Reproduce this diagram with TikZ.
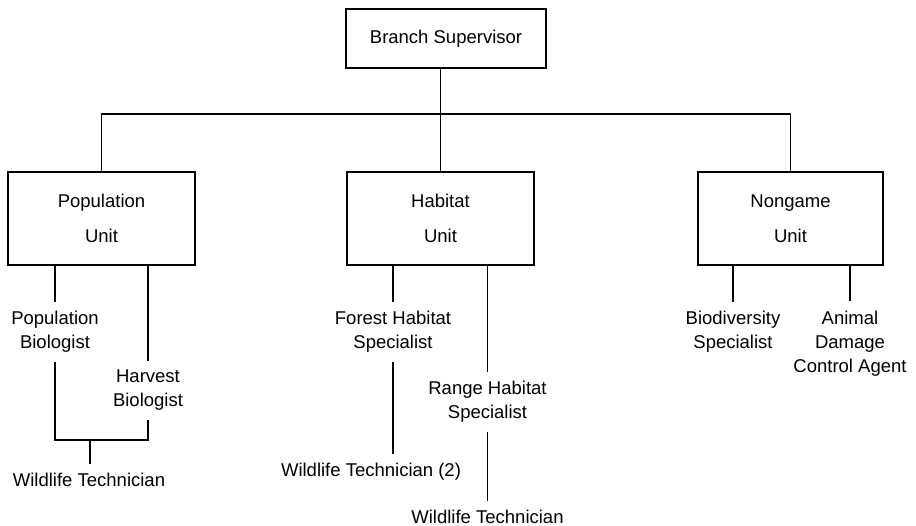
\documentclass[tikz,border=0pt]{standalone}
\usepackage{fontspec}
\setmainfont{Liberation Sans}
\begin{document}
\begin{tikzpicture}[x=1pt,y=-1pt,
  orgbox/.style={draw, line width=1.6pt, align=center, inner sep=0pt,
    font=\fontsize{18.5}{24}\selectfont},
  role/.style={align=center, inner xsep=2pt, inner ysep=9pt,
    font=\fontsize{18.5}{24}\selectfont},
  link/.style={draw, line width=1.6pt}]
\useasboundingbox (0,0) rectangle (916,526);

% Supervisor and the three units
\node[orgbox, minimum width=200pt, minimum height=59pt] (sup) at (446,38.5) {Branch Supervisor};
\node[orgbox, minimum width=187pt, minimum height=93pt] (pop) at (101.5,218.5) {Population\\[11pt]Unit};
\node[orgbox, minimum width=187pt, minimum height=93pt] (hab) at (440.5,218.5) {Habitat\\[11pt]Unit};
\node[orgbox, minimum width=185pt, minimum height=93pt] (non) at (790.5,218.5) {Nongame\\[11pt]Unit};

% Staff positions
\node[role] (pbio) at (55,331.8) {Population\\Biologist};
\node[role] (hbio) at (148,390.3) {Harvest\\Biologist};
\node[role] (wt1)  at (89,479.9) {Wildlife Technician};
\node[role] (fhs)  at (393,331.8) {Forest Habitat\\Specialist};
\node[role] (wt2)  at (371,471.8) {Wildlife Technician (2)};
\node[role] (rhs)  at (487.5,401.8) {Range Habitat\\Specialist};
\node[role] (wt3)  at (487.5,516.6) {Wildlife Technician};
\node[role] (bds)  at (733,331.8) {Biodiversity\\Specialist};
\node[role] (adca) at (850,343.3) {Animal\\Damage\\Control Agent};

% Reporting lines
\coordinate (bus) at (0,114);
\coordinate (pjoin) at (90,440);
\draw[link] (pop.north) -- (pop.north |- bus) -- (non.north |- bus) -- (non.north);
\draw[link] (sup.south -| hab.north) -- (hab.north);

\draw[link] (pop.south -| pbio) -- (pbio.north);
\draw[link] (pop.south -| hbio) -- (hbio.north);
\draw[link] (pbio.south) -- (pbio.south |- pjoin) -- (hbio.south |- pjoin) -- (hbio.south);
\draw[link] (pjoin) -- (pjoin |- wt1.north);

\draw[link] (hab.south -| fhs) -- (fhs.north);
\draw[link] (fhs.south) -- (fhs.south |- wt2.north);
\draw[link] (hab.south -| rhs) -- (rhs.north);
\draw[link] (rhs.south) -- (wt3.north);

\draw[link] (non.south -| bds) -- (bds.north);
\draw[link] (non.south -| adca) -- (adca.north);
\end{tikzpicture}
\end{document}
